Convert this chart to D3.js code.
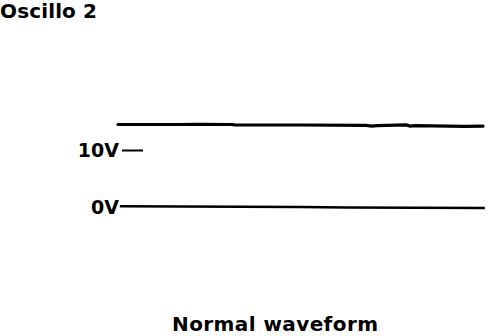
<!DOCTYPE html>
<html>
<head>
<meta charset="utf-8">
<script src="https://cdn.jsdelivr.net/npm/d3@7"></script>
<style>
  body { margin: 0; background: #fff; }
  text { font-family: "DejaVu Sans", sans-serif; font-weight: bold; fill: #000; }
</style>
</head>
<body>
<div id="chart"></div>
<script>
// signal trace (time in arbitrary units, volts)
const sigTime  = [0, 17, 22, 31, 32, 50, 68, 69.5, 71, 79, 80, 81.5, 95, 100]
const sigVolts = [14.47, 14.47, 14.52, 14.47, 14.40, 14.39, 14.32, 14.18, 14.26, 14.40, 14.20, 14.26, 14.16, 14.18]

// ground trace
const gndTime  = [0.5, 50, 63, 100.5]
const gndVolts = [0.15, 0.0, -0.1, -0.18]

const voltTicks = [0, 10]

const w = 496
const h = 336

const xScale = d3.scaleLinear()
  .domain([0, 100])
  .range([118, 483])

const yScale = d3.scaleLinear()
  .domain([0, 10])
  .range([207, 150])

const svg = d3.select('#chart')
  .append('svg')
  .attr('width', w)
  .attr('height', h)

// title
svg.append('text')
  .attr('x', 0)
  .attr('y', 17.5)
  .attr('font-size', 20)
  .attr('textLength', 97)
  .attr('lengthAdjust', 'spacing')
  .text('Oscillo 2')

//AXIS (labels with short ticks)
const yaxis = d3.axisLeft(yScale)
  .tickValues(voltTicks)
  .tickSize(21)
  .tickPadding(3)
  .tickFormat(d => d + 'V')

const axisG = svg.append('g')
  .attr('transform', 'translate(143,0)')
  .call(yaxis)

axisG.select('.domain').remove()
axisG.selectAll('.tick line')
  .attr('stroke', '#000')
  .attr('stroke-width', 2)
  .attr('display', d => d === 0 ? 'none' : null)
axisG.selectAll('.tick text')
  .attr('font-family', 'DejaVu Sans')
  .attr('font-weight', 'bold')
  .attr('font-size', 19)
  .attr('fill', '#000')

const line = d3.line()
  .x(d => xScale(d[0]))
  .y(d => yScale(d[1]))

// ground line
svg.append('path')
  .datum(d3.zip(gndTime, gndVolts))
  .attr('d', line)
  .attr('fill', 'none')
  .attr('stroke', '#000')
  .attr('stroke-width', 2.5)

// signal line
svg.append('path')
  .datum(d3.zip(sigTime, sigVolts))
  .attr('d', line)
  .attr('fill', 'none')
  .attr('stroke', '#000')
  .attr('stroke-width', 3.2)
  .attr('stroke-linecap', 'round')

// caption
svg.append('text')
  .attr('x', 172)
  .attr('y', 330.5)
  .attr('font-size', 20)
  .attr('textLength', 206)
  .attr('lengthAdjust', 'spacing')
  .text('Normal  waveform')
</script>
</body>
</html>
